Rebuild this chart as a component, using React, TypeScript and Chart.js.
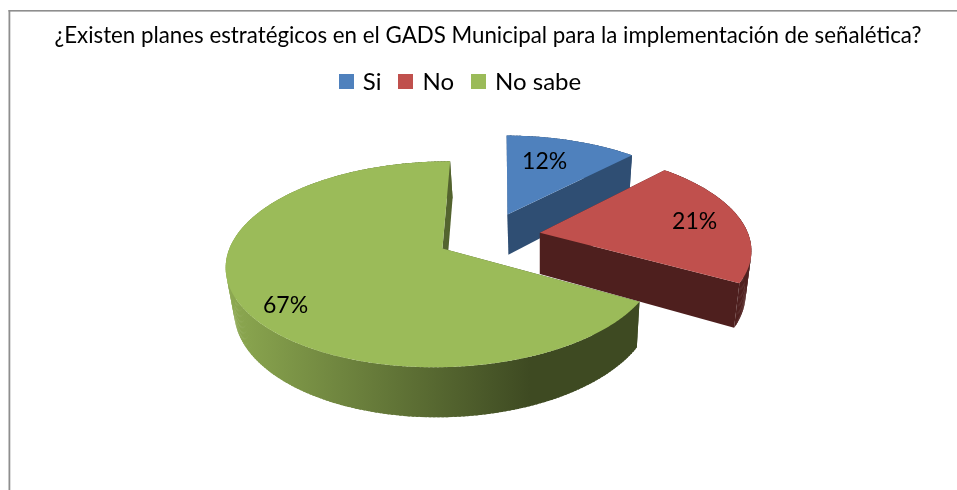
import React, { useEffect, useRef } from "react";
import { Chart, registerables } from "chart.js";

Chart.register(...registerables);

const titleText = "¿Existen planes estratégicos en el GADS Municipal para la implementación de señalética?";
const categories = ["Si", "No", "No sabe"];
const shares = [12, 21, 67];
const topColors = ["#4F81BD", "#C0504D", "#9BBB59"];
const sideLight = ["#2F4E73", "#4E1F1E", "#8CA850"];
const sideDark = ["#2F4E73", "#4E1F1E", "#3E4A22"];
const labelFractions = [0.675, 0.77, 0.84];
const labelAngleShifts = [-4, 0, -8];

const FONT = "Lato, Carlito, sans-serif";
const CX = 488.5, CY = 236.2, RX = 209, RY = 96.8, P = 0.15, EXPLODE = 0.25, DEPTH = 41.6;
const VANISH_X = 540, VANISH_T = 0.027;

function project(U: number, V: number, bottom: boolean) {
  const w = 1 - P * V;
  const x = CX + (RX * U) / w;
  const y = CY + (RY * V) / w;
  if (!bottom) return { x, y };
  return { x: x + (VANISH_X - x) * VANISH_T, y: y + DEPTH / w };
}

function sliceGeometry(arc: any) {
  const a0 = arc.startAngle + Math.PI / 2;
  const a1 = arc.endAngle + Math.PI / 2;
  const mid = (a0 + a1) / 2;
  const ox = EXPLODE * Math.sin(mid);
  const oy = -EXPLODE * Math.cos(mid);
  const at = (th: number, r: number, bottom: boolean) =>
    project(ox + r * Math.sin(th), oy - r * Math.cos(th), bottom);
  return { a0, a1, mid, at };
}

function quad(ctx: CanvasRenderingContext2D, pts: { x: number; y: number }[]) {
  ctx.beginPath();
  pts.forEach((p, i) => (i ? ctx.lineTo(p.x, p.y) : ctx.moveTo(p.x, p.y)));
  ctx.closePath();
  ctx.fill();
}

const pie3d = {
  id: "pie3d",
  beforeDraw(chart: any) {
    const ctx = chart.ctx;
    ctx.save();
    ctx.fillStyle = "#FFFFFF";
    ctx.fillRect(0, 0, chart.width, chart.height);
    ctx.fillStyle = "#8E8E8E";
    ctx.fillRect(8.5, 10, chart.width - 8.5, 1.6);
    ctx.fillRect(8.5, 10, 1.8, chart.height - 10);
    ctx.restore();
  },
  afterLayout(chart: any) {
    chart.titleBlock.left += 9.5;
    chart.titleBlock.right += 9.5;
    chart.legend.left -= 17;
    chart.legend.right -= 17;
  },
  beforeDatasetsDraw(chart: any) {
    const ctx: CanvasRenderingContext2D = chart.ctx;
    const arcs = chart.getDatasetMeta(0).data;
    ctx.save();
    ctx.lineJoin = "round";
    arcs.forEach((arc: any, i: number) => {
      const { a0, a1, at } = sliceGeometry(arc);
      const grad = ctx.createLinearGradient(230, 0, 530, 0);
      grad.addColorStop(0, sideLight[i]);
      grad.addColorStop(1, sideDark[i]);
      ctx.fillStyle = grad;
      [a0, a1].forEach((th) => {
        quad(ctx, [at(th, 0, false), at(th, 1, false), at(th, 1, true), at(th, 0, true)]);
      });
      const steps = Math.max(8, Math.round(((a1 - a0) * 180) / Math.PI));
      const dt = (a1 - a0) / steps;
      for (let s = 0; s < steps; s++) {
        const t0 = a0 + dt * s;
        const t1 = Math.min(a1, t0 + dt * 1.6);
        quad(ctx, [at(t0, 1, false), at(t1, 1, false), at(t1, 1, true), at(t0, 1, true)]);
      }
      ctx.fillStyle = topColors[i];
      ctx.beginPath();
      const tip = at(a0, 0, false);
      ctx.moveTo(tip.x, tip.y);
      for (let s = 0; s <= steps * 2; s++) {
        const p = at(a0 + (dt * s) / 2, 1, false);
        ctx.lineTo(p.x, p.y);
      }
      ctx.closePath();
      ctx.fill();
    });
    ctx.fillStyle = "#000000";
    ctx.font = `23px ${FONT}`;
    ctx.textAlign = "center";
    ctx.textBaseline = "middle";
    arcs.forEach((arc: any, i: number) => {
      const { mid, at } = sliceGeometry(arc);
      const p = at(mid + (labelAngleShifts[i] * Math.PI) / 180, labelFractions[i], false);
      ctx.fillText(`${shares[i]}%`, p.x, p.y);
    });
    ctx.restore();
    return false;
  },
};

function swatch(color: string) {
  const c = document.createElement("canvas");
  c.width = 15;
  c.height = 15;
  const g = c.getContext("2d")!;
  g.fillStyle = color;
  g.fillRect(0, 0, 15, 15);
  return c;
}

export default function App() {
  const ref = useRef<HTMLCanvasElement>(null);
  useEffect(() => {
    const chart = new Chart(ref.current!, {
      type: "pie",
      data: {
        labels: categories,
        datasets: [{ data: shares, backgroundColor: topColors, borderWidth: 0 }],
      },
      options: {
        responsive: false,
        animation: false,
        rotation: 0.5,
        layout: { padding: 0 },
        plugins: {
          tooltip: { enabled: false },
          title: {
            display: true,
            text: titleText,
            color: "#000000",
            font: { family: FONT, size: 22.3, weight: "normal" },
            padding: { top: 22.6, bottom: 0.6 },
          },
          legend: {
            display: true,
            position: "top",
            labels: {
              color: "#000000",
              font: { family: FONT, size: 24 },
              usePointStyle: true,
              pointStyleWidth: 9,
              boxHeight: 15,
              padding: 20,
              generateLabels: () =>
                categories.map((text, i) => ({
                  text,
                  index: i,
                  hidden: false,
                  fillStyle: topColors[i],
                  strokeStyle: topColors[i],
                  fontColor: "#000000",
                  lineWidth: 0,
                  pointStyle: swatch(topColors[i]),
                })),
            },
          },
        },
      } as any,
      plugins: [pie3d as any],
    });
    return () => chart.destroy();
  }, []);
  return (
    <div style={{ position: "fixed", left: 0, top: 0, width: 957, height: 490, overflow: "hidden", background: "#fff" }}>
      <canvas ref={ref} width={957} height={490} style={{ display: "block" }} />
    </div>
  );
}
